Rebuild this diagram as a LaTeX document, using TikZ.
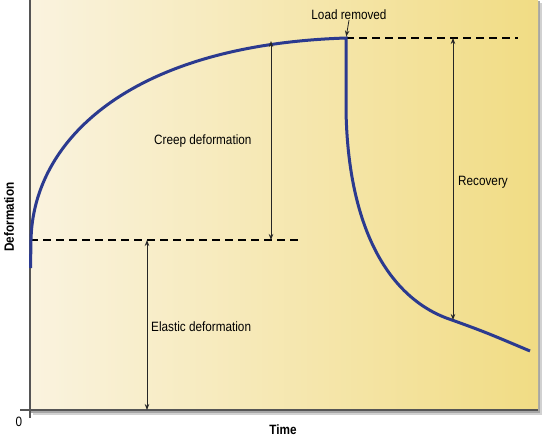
\documentclass[tikz,border=0pt]{standalone}
\usepackage{fontspec}
\setmainfont{Liberation Sans}[FakeStretch=0.87]
\usetikzlibrary{arrows.meta}
\definecolor{navy}{HTML}{2B3A8F}
\definecolor{paleL}{HTML}{FAF3DF}
\definecolor{paleR}{HTML}{F1DC84}
\definecolor{axisgray}{HTML}{555555}
\tikzset{
  curve/.style={navy, line width=3pt},
  guide/.style={black, line width=1.8pt, dash pattern=on 8pt off 5pt},
  dim/.style={black!85, line width=0.8pt, {Stealth[length=6pt,width=4.5pt]}-{Stealth[length=6pt,width=4.5pt]}},
  single/.style={black!85, line width=0.8pt, -{Stealth[length=6pt,width=4.5pt]}},
  lab/.style={font=\fontsize{13.5}{16}\selectfont, inner sep=0pt},
}
\begin{document}
\begin{tikzpicture}[x=1pt,y=-1pt]
\useasboundingbox (0,0) rectangle (543,437);
% panel with shadow
\fill[black!18] (33,3) rectangle (542,415);
\fill[black!35] (31,1) rectangle (540,413);
\shade[left color=paleL, right color=paleR] (30,0) rectangle (538,410);
% axes
\draw[axisgray, line width=2pt] (20,410) -- (538,410);
\draw[axisgray, line width=1.2pt] (30,0) -- (30,418);
% key points
\coordinate (c0) at (30.5,268);
\coordinate (e) at (31,240);
\coordinate (top) at (346,38);
\coordinate (r1) at (346,110);
\coordinate (r2) at (452,320);
\coordinate (rend) at (530,351);
\coordinate (d1) at (300,240);
\coordinate (d2) at (518,38);
% dashed guides
\draw[guide] (30,240) -- (d1);
\draw[guide] (top) -- (d2);
% curve
\draw[curve, line join=miter] (c0) -- (e) .. controls (33,140) and (130,45) .. (top)
   -- (r1) .. controls (348,230) and (390,300) .. (r2) .. controls (485,332) .. (rend);
% dimension arrows
\coordinate (ea) at (147,410);
\coordinate (eb) at (147,240);
\coordinate (ca) at (271,240);
\coordinate (cb) at (271,41);
\coordinate (ra) at (453,38);
\coordinate (rb) at (453,320);
\draw[dim] (ea) -- (eb);
\draw[dim] (ca) -- (cb);
\draw[dim] (ra) -- (rb);
% labels
\node[lab, anchor=west] (elab) at (151,327) {Elastic deformation};
\node[lab, anchor=west] (clab) at (154,141) {Creep deformation};
\node[lab, anchor=west] (rlab) at (458,182) {Recovery};
\node[lab] (llab) at (349,15) {Load removed};
\draw[single, shorten >=1.5pt] (llab.south) -- (top);
\node[lab, font=\fontsize{13.5}{16}\selectfont\bfseries] (tlab) at (283,430) {Time};
\node[lab, rotate=90, font=\fontsize{13.5}{16}\selectfont\bfseries] (dlab) at (9,217) {Deformation};
\node[lab] (zero) at (19,422) {0};
\end{tikzpicture}
\end{document}
